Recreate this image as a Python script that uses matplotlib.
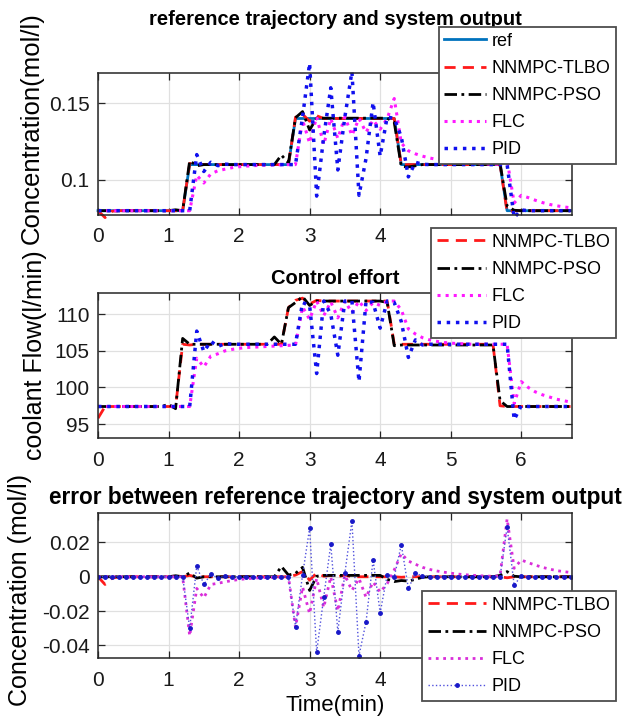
import numpy as np
import matplotlib
matplotlib.use('Agg')
import matplotlib.pyplot as plt

plt.rcParams['font.family'] = ['Liberation Sans', 'DejaVu Sans']

# sampling instants (min)
t = np.round(np.arange(68) * 0.1, 1)

# ---------------- concentration (mol/l) ----------------
ref_c = [0.08] * 13 + [0.11] * 15 + [0.14] * 15 + [0.11] * 15 + [0.08] * 10
tlbo_c = ([0.08, 0.0755, 0.0797] + [0.08] * 10 + [0.1108, 0.1098] + [0.11] * 13
          + [0.1408, 0.1428, 0.1382, 0.1418] + [0.14] * 11 + [0.1098] + [0.11] * 14
          + [0.0792] + [0.08] * 9)
pso_c = ([0.08] * 11 + [0.0806, 0.08, 0.1125, 0.1092] + [0.11] * 11
         + [0.1162, 0.111, 0.1405, 0.1445, 0.1325, 0.1403] + [0.1402] * 10
         + [0.1375, 0.1087, 0.1085, 0.1092] + [0.11] * 11 + [0.1108, 0.083, 0.0803]
         + [0.08] * 8)
flc_c = ([0.08] * 14
         + [0.103, 0.098, 0.104, 0.106, 0.107, 0.108, 0.1086, 0.109, 0.1093, 0.1095,
            0.1097, 0.1098, 0.1099, 0.11, 0.11]
         + [0.139, 0.124, 0.141, 0.123, 0.14, 0.127, 0.141, 0.129, 0.14, 0.131,
            0.139, 0.133, 0.14, 0.153]
         + [0.124, 0.119, 0.117, 0.1155, 0.1143, 0.1134, 0.1127, 0.1121, 0.1116,
            0.1112, 0.1109, 0.1106, 0.1104, 0.1103, 0.1102]
         + [0.113, 0.085, 0.09, 0.0885, 0.0868, 0.0853, 0.0841, 0.0832, 0.0825, 0.0819])
pid_c = ([0.08] * 14 + [0.1165, 0.1055, 0.1115, 0.1093, 0.1103] + [0.11] * 10
         + [0.141, 0.176, 0.0895, 0.128, 0.16, 0.1065, 0.141, 0.1705, 0.09, 0.114,
            0.1505, 0.1155, 0.141, 0.14, 0.128, 0.102, 0.1115, 0.1102]
         + [0.11] * 12 + [0.0755, 0.0805] + [0.08] * 7)

# ---------------- coolant flow (l/min) ----------------
tlbo_u = ([95.8] + [97.4] * 10 + [97.35, 105.9, 105.8] + [105.9] * 13
          + [110.9, 111.9, 112.2, 111.4, 111.9] + [111.8] * 10 + [105.9] * 15
          + [97.5] + [97.4] * 10)
pso_u = ([97.4] * 10 + [97.7, 97.1, 106.7, 105.9] + [105.9] * 11
         + [106.9, 105.9, 110.9, 111.6, 112.4, 111.2, 111.8] + [111.8] * 9
         + [111.6, 105.7] + [105.8] * 14 + [98.2] + [97.4] * 10)
flc_u = ([97.4] * 14
         + [104.0, 102.8, 104.3, 104.6, 105.0, 105.2, 105.35, 105.45, 105.5, 105.55,
            105.6, 105.65, 105.7, 105.75, 105.8]
         + [111.0, 109.3, 111.8, 109.8, 111.7, 109.5, 111.8, 110.2, 111.8, 110.5,
            111.6, 111.2, 111.8, 111.8]
         + [110.6, 108.0, 107.3, 106.8, 106.5, 106.3, 106.15, 106.05, 106.0, 105.95,
            105.9, 105.9, 105.9, 105.9, 105.9, 105.9]
         + [97.8, 100.8, 100.0, 99.4, 99.0, 98.7, 98.4, 98.2, 98.0])
pid_u = ([97.4] * 14 + [107.7, 104.9, 106.3, 105.6, 106.0] + [105.9] * 10
         + [111.6, 111.2, 101.9, 111.8, 110.0, 104.4, 111.8, 111.8, 100.8, 111.8,
            111.6, 108.1, 111.8, 111.6, 109.0, 104.1, 106.5, 105.8]
         + [105.9] * 12 + [95.6, 97.5] + [97.4] * 7)

# ---------------- tracking error (mol/l) ----------------
tlbo_e = ([0.0, -0.0045, -0.0008] + [0.0] * 10 + [0.0008, -0.0002] + [0.0] * 13
          + [0.001, 0.003, -0.002, 0.0022, 0.0003, 0.0008, 0.0, 0.001] + [0.0] * 7
          + [-0.0003] + [0.0] * 14 + [-0.0006] + [0.0] * 9)
pso_e = ([0.0] * 11 + [0.0006, 0.0, 0.0022, -0.0008] + [0.0] * 11
         + [0.006, 0.001, 0.002, 0.0055, -0.008, 0.0003] + [0.0008] * 9
         + [-0.0015, -0.0028, -0.0022, -0.0025, -0.0015, -0.0003] + [0.0] * 10
         + [0.0008, 0.003, 0.0003] + [0.0] * 8)
flc_e = ([0.0] * 13
         + [-0.0345, -0.0068, -0.0123, -0.0045, -0.0038, -0.003, -0.0022, -0.0016,
            -0.0012, -0.0009, -0.0006, -0.0004, -0.0003, -0.0002, 0.0]
         + [-0.0295, -0.006, -0.0215, -0.001, -0.018, 0.0, -0.02, 0.001, -0.008,
            -0.001, -0.012, -0.003, -0.009, -0.004, 0.004]
         + [0.0135, 0.0092, 0.0073, 0.0055, 0.0043, 0.0034, 0.0027, 0.0021, 0.0016,
            0.0012, 0.0009, 0.0006, 0.0004, 0.0003, 0.0005]
         + [0.0338, 0.0049, 0.0098, 0.0082, 0.0068, 0.0055, 0.0045, 0.0036, 0.003, 0.0025])
pid_e = ([0.0] * 13 + [-0.030, 0.0063, -0.0045, 0.0015, -0.0007, 0.0003] + [0.0] * 9
         + [-0.0293, 0.001, 0.0284, -0.044, -0.012, 0.019, -0.032, 0.002, 0.0327,
            -0.046, -0.0264, 0.0098, -0.021, 0.001, 0.0, 0.0187, -0.0068, 0.002, 0.0005]
         + [0.0] * 11 + [0.029, -0.0049, 0.0005] + [0.0] * 7)

for arr in (ref_c, tlbo_c, pso_c, flc_c, pid_c, tlbo_u, pso_u, flc_u, pid_u,
            tlbo_e, pso_e, flc_e, pid_e):
    assert len(arr) == len(t)

# ---------------- axis texts / ticks ----------------
xticks = [0, 1, 2, 3, 4, 5, 6]
xtick_labels = ['0', '1', '2', '3', '4', '5', '6']
yticks_c = [0.1, 0.15]
ytick_labels_c = ['0.1', '0.15']
yticks_u = [95, 100, 105, 110]
ytick_labels_u = ['95', '100', '105', '110']
yticks_e = [-0.04, -0.02, 0, 0.02]
ytick_labels_e = ['-0.04', '-0.02', '0', '0.02']
names = ['NNMPC-TLBO', 'NNMPC-PSO', 'FLC', 'PID']

W, H = 641, 725
fig = plt.figure(figsize=(W / 100, H / 100), dpi=100)


def rect(l, tp, r, b):
    return [l / W, 1 - b / H, (r - l) / W, (b - tp) / H]


ax1 = fig.add_axes(rect(98, 73, 572, 215))
ax2 = fig.add_axes(rect(98, 293, 572, 438))
ax3 = fig.add_axes(rect(98, 513, 572, 658))

FRAME = '#262626'
C_REF = (0.0, 0.447, 0.741)
C_RED = '#ff1a1a'
C_MAG = '#ff1aff'
C_BLUE = '#1010ee'
DASH = (0, (4.0, 2.6))
DASHDOT = (0, (4.5, 1.6, 1.0, 1.6))


def style(ax, yt, ytl, ylim):
    ax.set_xlim(0, 6.72)
    ax.set_ylim(*ylim)
    ax.set_xticks(xticks)
    ax.set_xticklabels(xtick_labels)
    ax.set_yticks(yt)
    ax.set_yticklabels(ytl)
    ax.grid(True, color='#e0e0e0', lw=0.9)
    ax.set_axisbelow(True)
    ax.tick_params(direction='in', length=5, width=0.9, top=True, right=True,
                   labelsize=15, colors=FRAME, labelcolor='#1a1a1a')
    ax.tick_params(axis='x', pad=9)
    ax.tick_params(axis='y', pad=6)
    for s in ax.spines.values():
        s.set_color(FRAME)
        s.set_linewidth(1.1)


def legend(ax, handles, labels, top, hl):
    leg = ax.legend(handles, labels, loc='upper right',
                    bbox_to_anchor=(616 / W, 1 - top / H),
                    bbox_transform=fig.transFigure, borderaxespad=0,
                    fontsize=13, handlelength=hl, handletextpad=0.3,
                    borderpad=0.32, labelspacing=0.56, fancybox=False,
                    framealpha=1, edgecolor='#4d4d4d')
    leg.get_frame().set_linewidth(1.3)
    return leg


# ---- panel 1 ----
style(ax1, yticks_c, ytick_labels_c, (0.0772, 0.1696))
l0, = ax1.plot(t, ref_c, '-', color=C_REF, lw=2.0, clip_on=False)
l1, = ax1.plot(t, tlbo_c, color=C_RED, lw=2.0, ls=DASH, clip_on=False)
l2, = ax1.plot(t, pso_c, color='k', lw=2.0, ls=DASHDOT, clip_on=False)
l3, = ax1.plot(t, flc_c, color=C_MAG, lw=2.2, ls=':', clip_on=False)
l4, = ax1.plot(t, pid_c, color=C_BLUE, lw=2.5, ls=':', clip_on=False)
ax1.set_title('reference trajectory and system output', fontweight='bold',
              fontsize=14.5, y=1.375, va='center', pad=0)
ax1.set_ylabel('Concentration(mol/l)', fontsize=18.5)
ax1.yaxis.set_label_coords(-0.139, 0.61)
ax1.yaxis.label.set_va('center')
legend(ax1, [l0, l1, l2, l3, l4], ['ref'] + names, 27, 2.3)

# ---- panel 2 ----
style(ax2, yticks_u, ytick_labels_u, (93.1, 112.9))
m1, = ax2.plot(t, tlbo_u, color=C_RED, lw=2.0, ls=DASH)
m2, = ax2.plot(t, pso_u, color='k', lw=2.0, ls=DASHDOT)
m3, = ax2.plot(t, flc_u, color=C_MAG, lw=2.2, ls=':')
m4, = ax2.plot(t, pid_u, color=C_BLUE, lw=2.5, ls=':')
ax2.set_title('Control effort', fontweight='bold', fontsize=14.5,
              y=1.1, va='center', pad=0)
ax2.set_ylabel('coolant Flow(l/min)', fontsize=18)
ax2.yaxis.set_label_coords(-0.133, 0.57)
ax2.yaxis.label.set_va('center')
legend(ax2, [m1, m2, m3, m4], names, 228, 2.7)

# ---- panel 3 ----
style(ax3, yticks_e, ytick_labels_e, (-0.0474, 0.0372))
e1, = ax3.plot(t, tlbo_e, color=C_RED, lw=2.0, ls=DASH)
e2, = ax3.plot(t, pso_e, color='k', lw=2.0, ls=DASHDOT)
e3, = ax3.plot(t, flc_e, color='#d92ed9', lw=2.0, ls=':')
e4, = ax3.plot(t, pid_e, color='#5050dd', lw=1.0, ls=':', marker='.',
               markersize=5, markerfacecolor='#1818c8', markeredgecolor='#1818c8')
ax3.set_title('error between reference trajectory and system output',
              fontweight='bold', fontsize=16.3, y=1.11, va='center', pad=0)
ax3.set_ylabel('Concentration (mol/l)', fontsize=18)
ax3.yaxis.set_label_coords(-0.165, 0.47)
ax3.yaxis.label.set_va('center')
ax3.set_xlabel('Time(min)', fontsize=16)
ax3.xaxis.set_label_coords(0.5, -0.325)
ax3.xaxis.label.set_va('center')
legend(ax3, [e1, e2, e3, e4], names, 591, 3.2)

fig.savefig('out.png', dpi=100, facecolor='white')
